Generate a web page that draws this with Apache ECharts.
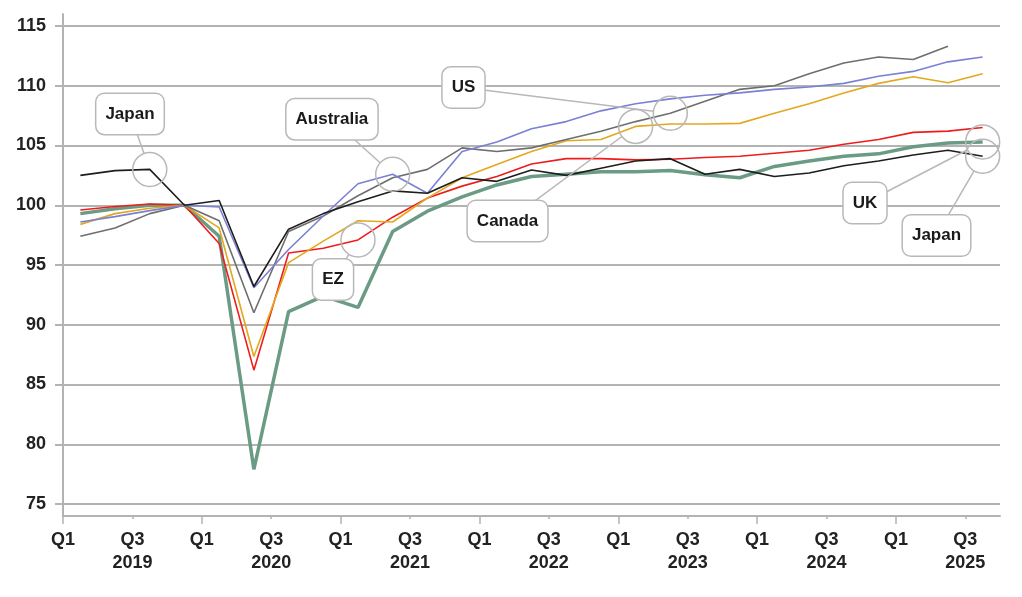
<!DOCTYPE html>
<html><head><meta charset="utf-8">
<script src="https://cdn.jsdelivr.net/npm/echarts@6/dist/echarts.min.js"></script>
<style>html,body{margin:0;padding:0;background:#fff}#c{width:1022px;height:597px}</style>
</head><body><div id="c"></div>
<script>
// Quarters (index 0 = 2019 Q1)
const quarters = ['2019 Q1','2019 Q2','2019 Q3','2019 Q4','2020 Q1','2020 Q2','2020 Q3','2020 Q4',
  '2021 Q1','2021 Q2','2021 Q3','2021 Q4','2022 Q1','2022 Q2','2022 Q3','2022 Q4',
  '2023 Q1','2023 Q2','2023 Q3','2023 Q4','2024 Q1','2024 Q2','2024 Q3','2024 Q4',
  '2025 Q1','2025 Q2','2025 Q3'];
const xTickLabels = [0,2,4,6,8,10,12,14,16,18,20,22,24,26];   // Q1 / Q3 positions
const xMajorTicks = [0,4,8,12,16,20,24];                        // Q1 positions
const yTicks = [75,80,85,90,95,100,105,110,115];

// Real GDP index, 2019 Q4 = 100
const uk        = [99.3,99.7,100.0,100,97.4,77.9,91.1,92.4,91.45,97.8,99.5,100.7,101.7,102.4,102.6,102.8,102.8,102.9,102.55,102.3,103.25,103.7,104.1,104.3,104.9,105.2,105.3];
const japan     = [102.5,102.9,103.0,100,100.4,93.2,98.0,99.3,100.3,101.2,101.0,102.3,102.0,102.95,102.5,103.1,103.7,103.9,102.6,103.0,102.4,102.7,103.3,103.7,104.2,104.6,104.1];
const us        = [97.4,98.1,99.3,100,98.7,91.0,97.8,99.1,100.8,102.3,103.0,104.8,104.5,104.8,105.5,106.2,107.0,107.7,108.7,109.7,110.0,111.0,111.9,112.4,112.2,113.3,null];
const australia = [98.6,99.05,99.55,100,99.85,93.1,96.3,99.1,101.8,102.6,101.0,104.5,105.3,106.4,107.0,107.9,108.5,108.9,109.2,109.4,109.7,109.9,110.2,110.8,111.2,112.0,112.4];
const canada    = [98.4,99.3,99.75,100,98.1,87.35,95.2,97.0,98.7,98.6,100.6,102.3,103.4,104.5,105.4,105.5,106.6,106.8,106.8,106.85,107.7,108.5,109.4,110.2,110.75,110.25,111.0];
const ez        = [99.6,99.9,100.1,100,96.8,86.2,96.0,96.4,97.1,99.0,100.6,101.6,102.4,103.45,103.9,103.9,103.8,103.85,104.0,104.1,104.35,104.6,105.1,105.5,106.1,106.2,106.5];

// Callout labels: target series/quarter, label box centre in data units
const annotations = [
  {text:'Japan',     series:'Japan',     idx:2,  bx:1.93,  by:107.64},
  {text:'Australia', series:'Australia', idx:9,  bx:7.75,  by:107.2},
  {text:'US',        series:'US',        idx:17, bx:11.54, by:109.85},
  {text:'Canada',    series:'Canada',    idx:16, bx:12.81, by:98.68},
  {text:'EZ',        series:'EZ',        idx:8,  bx:7.78,  by:93.79},
  {text:'UK',        series:'UK',        idx:26, bx:23.11, by:100.19},
  {text:'Japan',     series:'Japan',     idx:26, bx:25.17, by:97.47}
];

const seriesDefs = [
  {name:'UK', data:uk, color:'#6b9b85', width:3.5},
  {name:'EZ', data:ez, color:'#f01c1c', width:1.6},
  {name:'Canada', data:canada, color:'#e2a81e', width:1.6},
  {name:'US', data:us, color:'#6e6e6e', width:1.6},
  {name:'Australia', data:australia, color:'#7a80d4', width:1.6},
  {name:'Japan', data:japan, color:'#1e1e1e', width:1.6}
];

const FONT = '"Liberation Sans", Arial, sans-serif';
const GRID_GRAY = '#b3b3b3';
const chart = echarts.init(document.getElementById('c'), null, {renderer:'canvas'});

const option = {
  animation: false,
  backgroundColor: '#fff',
  grid: [
    {left:63, right:22, top:26, bottom:93},
    {left:63, right:22, top:14, bottom:81}
  ],
  xAxis: [
    {type:'value', gridIndex:0, min:0, max:27, position:'bottom', offset:12,
     axisLine:{show:false}, splitLine:{show:false}, axisLabel:{show:false},
     axisTick:{show:true, customValues:xMajorTicks, length:8, lineStyle:{color:GRID_GRAY, width:1.5}}},
    {type:'value', gridIndex:1, min:0, max:27, position:'bottom',
     axisLine:{show:true, lineStyle:{color:GRID_GRAY, width:2}},
     splitLine:{show:false},
     axisTick:{show:true, customValues:xTickLabels, length:3, lineStyle:{color:GRID_GRAY, width:1.5}},
     axisLabel:{show:true, customValues:xTickLabels, margin:13, color:'#222', fontSize:18, fontWeight:'bold',
       fontFamily:FONT, lineHeight:23,
       formatter: v => { const q = quarters[v]; if (!q) return ''; const [yr, qq] = q.split(' ');
         return qq === 'Q1' ? 'Q1' : qq + '\n' + yr; }}}
  ],
  yAxis: [
    {type:'value', gridIndex:0, min:75, max:115, interval:5,
     axisLine:{show:false},
     axisTick:{show:true, length:8, lineStyle:{color:GRID_GRAY, width:2}},
     axisLabel:{margin:17, color:'#222', fontSize:18, fontWeight:'bold', fontFamily:FONT},
     splitLine:{show:true, lineStyle:{color:GRID_GRAY, width:2}}},
    {type:'value', gridIndex:1, min:0, max:1,
     axisLine:{show:true, lineStyle:{color:GRID_GRAY, width:2}},
     axisTick:{show:false}, axisLabel:{show:false}, splitLine:{show:false}}
  ],
  series: seriesDefs.map(s => ({
    name:s.name, type:'line', xAxisIndex:0, yAxisIndex:0,
    data: s.data.map((v,i) => [i + 0.5, v]),
    showSymbol:false, symbol:'none', connectNulls:false,
    lineStyle:{color:s.color, width:s.width}, itemStyle:{color:s.color}, z: 3
  }))
};
chart.setOption(option);

const seriesMap = {};
seriesDefs.forEach(s => seriesMap[s.name] = s.data);
const R = 17;
const lines = [], boxes = [], circles = [];
annotations.forEach(a => {
  const c = chart.convertToPixel({gridIndex:0}, [a.idx + 0.5, seriesMap[a.series][a.idx]]);
  const b = chart.convertToPixel({gridIndex:0}, [a.bx, a.by]);
  const dx = c[0]-b[0], dy = c[1]-b[1], d = Math.hypot(dx, dy);
  lines.push({type:'line', z:20, silent:true,
    shape:{x1:b[0], y1:b[1], x2:c[0]-dx/d*R, y2:c[1]-dy/d*R},
    style:{stroke:'#b8b8b8', lineWidth:1.5}});
  circles.push({type:'circle', z:22, silent:true,
    shape:{cx:c[0], cy:c[1], r:R},
    style:{fill:'transparent', stroke:'#b8b8b8', lineWidth:1.5}});
  boxes.push({type:'text', z:21, silent:true, x:b[0], y:b[1],
    style:{text:a.text, font:'bold 17px ' + FONT, fill:'#1a1a1a', align:'center', verticalAlign:'middle',
      backgroundColor:'#fff', borderColor:'#b8b8b8', borderWidth:1.5, borderRadius:8,
      padding:[10,9,10,9], lineHeight:20}});
});
chart.setOption({graphic: lines.concat(boxes, circles)});
</script>
</body></html>
